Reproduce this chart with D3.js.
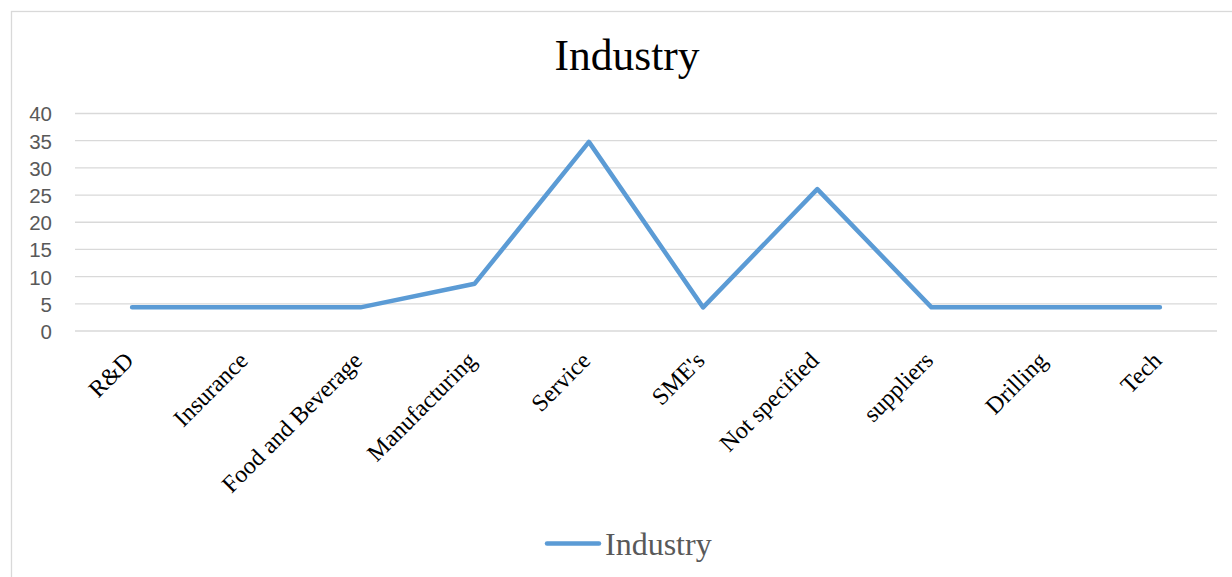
<!DOCTYPE html>
<html>
<head>
<meta charset="utf-8">
<script src="https://cdn.jsdelivr.net/npm/d3@7"></script>
<style>
  html, body { margin: 0; padding: 0; background: #fff; }
  svg { display: block; }
</style>
</head>
<body>
<svg id="chart" width="1232" height="577"></svg>
<script>
// Industry breakdown (share of responses, %)
const categories = ["R&D", "Insurance", "Food and Beverage", "Manufacturing", "Service",
                    "SME's", "Not specified", "suppliers", "Drilling", "Tech"];
const industryValues = [4.35, 4.35, 4.35, 8.70, 34.78, 4.35, 26.09, 4.35, 4.35, 4.35];
const yTicks = [0, 5, 10, 15, 20, 25, 30, 35, 40];
const seriesName = "Industry";
const chartTitle = "Industry";

const svg = d3.select("#chart");
const plot = { left: 75, right: 1217, top: 113.5, bottom: 331 };
const lineColor = "#5b9bd5";

// chart frame
svg.append("rect")
  .attr("x", 11.5).attr("y", 11.5)
  .attr("width", 1240).attr("height", 600)
  .attr("fill", "#fff").attr("stroke", "#d9d9d9").attr("stroke-width", 1.3);

const x = d3.scaleBand().domain(categories).range([plot.left, plot.right]);
const y = d3.scaleLinear().domain([0, 40]).range([plot.bottom, plot.top]);

// horizontal gridlines
svg.append("g")
  .selectAll("line").data(yTicks).join("line")
  .attr("x1", plot.left).attr("x2", plot.right)
  .attr("y1", d => y(d)).attr("y2", d => y(d))
  .attr("stroke", "#d9d9d9").attr("stroke-width", 1.3);

// y axis labels
const yAxis = d3.axisLeft(y).tickValues(yTicks).tickSize(0).tickPadding(0);
const gy = svg.append("g").attr("transform", `translate(${52},0)`).call(yAxis);
gy.select(".domain").remove();
gy.selectAll("text")
  .attr("font-family", "'Liberation Sans', Arial, sans-serif")
  .attr("font-size", 20.5)
  .attr("fill", "#595959")
  .attr("dy", "0.36em");

// x axis category labels, rotated
const xAxis = d3.axisBottom(x).tickSize(0).tickPadding(0);
const gx = svg.append("g").attr("transform", `translate(0,${plot.bottom})`).call(xAxis);
gx.select(".domain").remove();
gx.selectAll(".tick text")
  .attr("font-family", "'Liberation Serif', 'Times New Roman', serif")
  .attr("font-size", 24)
  .attr("fill", "#000")
  .attr("text-anchor", "end")
  .attr("dy", null)
  .attr("y", 0)
  .attr("transform", "translate(3,31) rotate(-45)");

// series line
const line = d3.line()
  .x((d, i) => x(categories[i]) + x.bandwidth() / 2)
  .y(d => y(d));

svg.append("path")
  .datum(industryValues)
  .attr("d", line)
  .attr("fill", "none")
  .attr("stroke", lineColor)
  .attr("stroke-width", 4.5)
  .attr("stroke-linejoin", "round")
  .attr("stroke-linecap", "round");

// title
svg.append("text")
  .attr("x", 627).attr("y", 70)
  .attr("text-anchor", "middle")
  .attr("font-family", "'Liberation Serif', 'Times New Roman', serif")
  .attr("font-size", 43.5)
  .attr("fill", "#000")
  .text(chartTitle);

// legend
const legend = svg.append("g").attr("transform", "translate(547,543.5)");
legend.append("line")
  .attr("x1", 0).attr("x2", 52).attr("y1", 0).attr("y2", 0)
  .attr("stroke", lineColor).attr("stroke-width", 4.5)
  .attr("stroke-linecap", "round");
legend.append("text")
  .attr("x", 58).attr("y", 11)
  .attr("font-family", "'Liberation Serif', 'Times New Roman', serif")
  .attr("font-size", 32)
  .attr("fill", "#595959")
  .text(seriesName);
</script>
</body>
</html>
